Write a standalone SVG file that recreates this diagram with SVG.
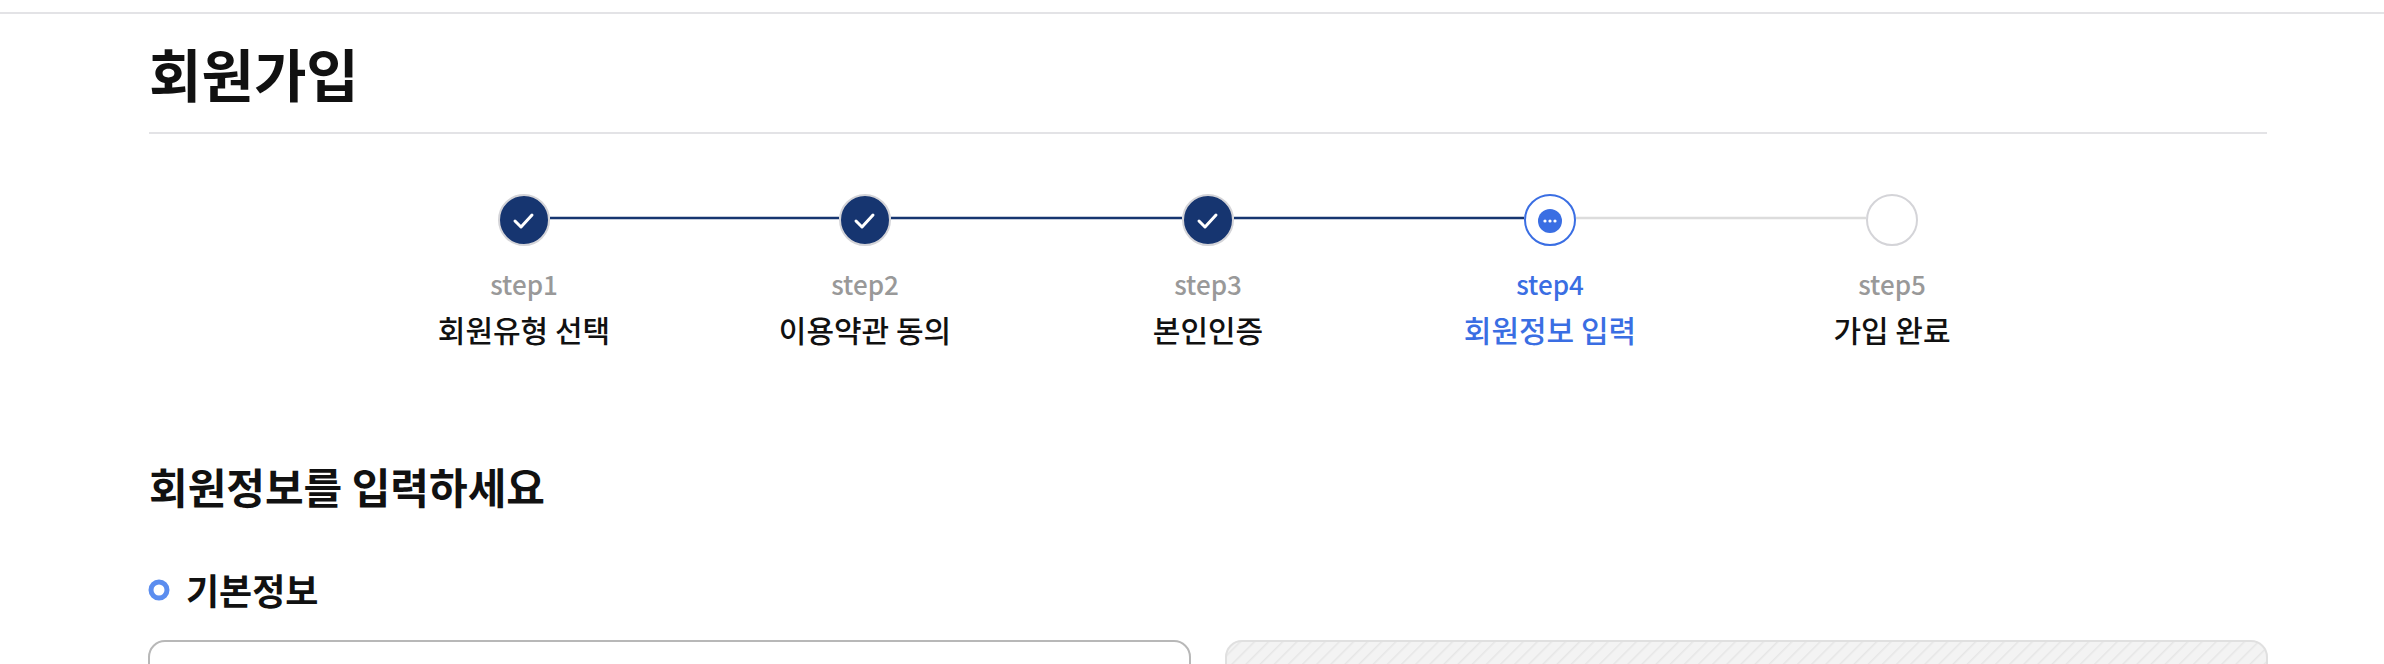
<svg xmlns="http://www.w3.org/2000/svg" width="2384" height="664" viewBox="0 0 2384 664">
<style>
text{font-family:"Noto Sans CJK KR","Noto Sans",sans-serif}
.step{font-size:26px;fill:#999;text-anchor:middle;font-weight:500}
.lbl{font-size:30px;fill:#111;text-anchor:middle;font-weight:500}
.done{fill:#163570;stroke:#d4d4d8;stroke-width:2}
.chk{fill:none;stroke:#fff;stroke-width:3;stroke-linecap:round;stroke-linejoin:round}
</style>
<defs>
<pattern id="hatch" width="10" height="10" patternUnits="userSpaceOnUse" patternTransform="rotate(45)">
<rect width="10" height="10" fill="#f3f3f3"/><line x1="0" y1="0" x2="0" y2="10" stroke="#e6e6e6" stroke-width="3"/>
</pattern>
</defs>
<rect width="2384" height="664" fill="#fff"/>
<line x1="0" y1="13" x2="2384" y2="13" stroke="#e3e3e6" stroke-width="2"/>
<text x="149" y="97" font-size="57" font-weight="700" fill="#111">회원가입</text>
<line x1="149" y1="133" x2="2267" y2="133" stroke="#e3e3e6" stroke-width="2"/>
<g id="connectors">
<line x1="550" y1="218" x2="839" y2="218" stroke="#163570" stroke-width="2.5"/>
<line x1="891" y1="218" x2="1182" y2="218" stroke="#163570" stroke-width="2.5"/>
<line x1="1234" y1="218" x2="1524" y2="218" stroke="#163570" stroke-width="2.5"/>
<line x1="1576" y1="218" x2="1866" y2="218" stroke="#dcdcdc" stroke-width="2.5"/>
</g>
<g id="step1"><circle cx="524" cy="220" r="25" class="done"/><path d="M515 221l6 6 11-12" class="chk"/>
<text x="524" y="295" class="step">step1</text><text x="524" y="342" class="lbl">회원유형 선택</text></g>
<g id="step2"><circle cx="865" cy="220" r="25" class="done"/><path d="M856 221l6 6 11-12" class="chk"/>
<text x="865" y="295" class="step">step2</text><text x="865" y="342" class="lbl">이용약관 동의</text></g>
<g id="step3"><circle cx="1208" cy="220" r="25" class="done"/><path d="M1199 221l6 6 11-12" class="chk"/>
<text x="1208" y="295" class="step">step3</text><text x="1208" y="342" class="lbl">본인인증</text></g>
<g id="step4"><circle cx="1550" cy="220" r="25" fill="#fff" stroke="#3a6ee3" stroke-width="2"/><circle cx="1550" cy="221" r="12" fill="#3a6ee3"/>
<circle cx="1545" cy="221" r="1.6" fill="#fff"/><circle cx="1550" cy="221" r="1.6" fill="#fff"/><circle cx="1555" cy="221" r="1.6" fill="#fff"/>
<text x="1550" y="295" class="step" style="fill:#3a6ee3">step4</text><text x="1550" y="342" class="lbl" style="fill:#3a6ee3">회원정보 입력</text></g>
<g id="step5"><circle cx="1892" cy="220" r="25" fill="#fff" stroke="#d4d4d8" stroke-width="2"/>
<text x="1892" y="295" class="step">step5</text><text x="1892" y="342" class="lbl">가입 완료</text></g>
<text x="149" y="504" font-size="42" font-weight="700" fill="#111">회원정보를 입력하세요</text>
<circle cx="159" cy="590" r="8" fill="#fff" stroke="#5b8def" stroke-width="5"/>
<text x="186" y="605" font-size="36" font-weight="700" fill="#111">기본정보</text>
<rect x="149" y="641" width="1041" height="60" rx="16" fill="#fff" stroke="#b8b8b8" stroke-width="2"/>
<rect x="1226" y="641" width="1041" height="60" rx="16" fill="url(#hatch)" stroke="#e0e0e0" stroke-width="2"/>
</svg>
